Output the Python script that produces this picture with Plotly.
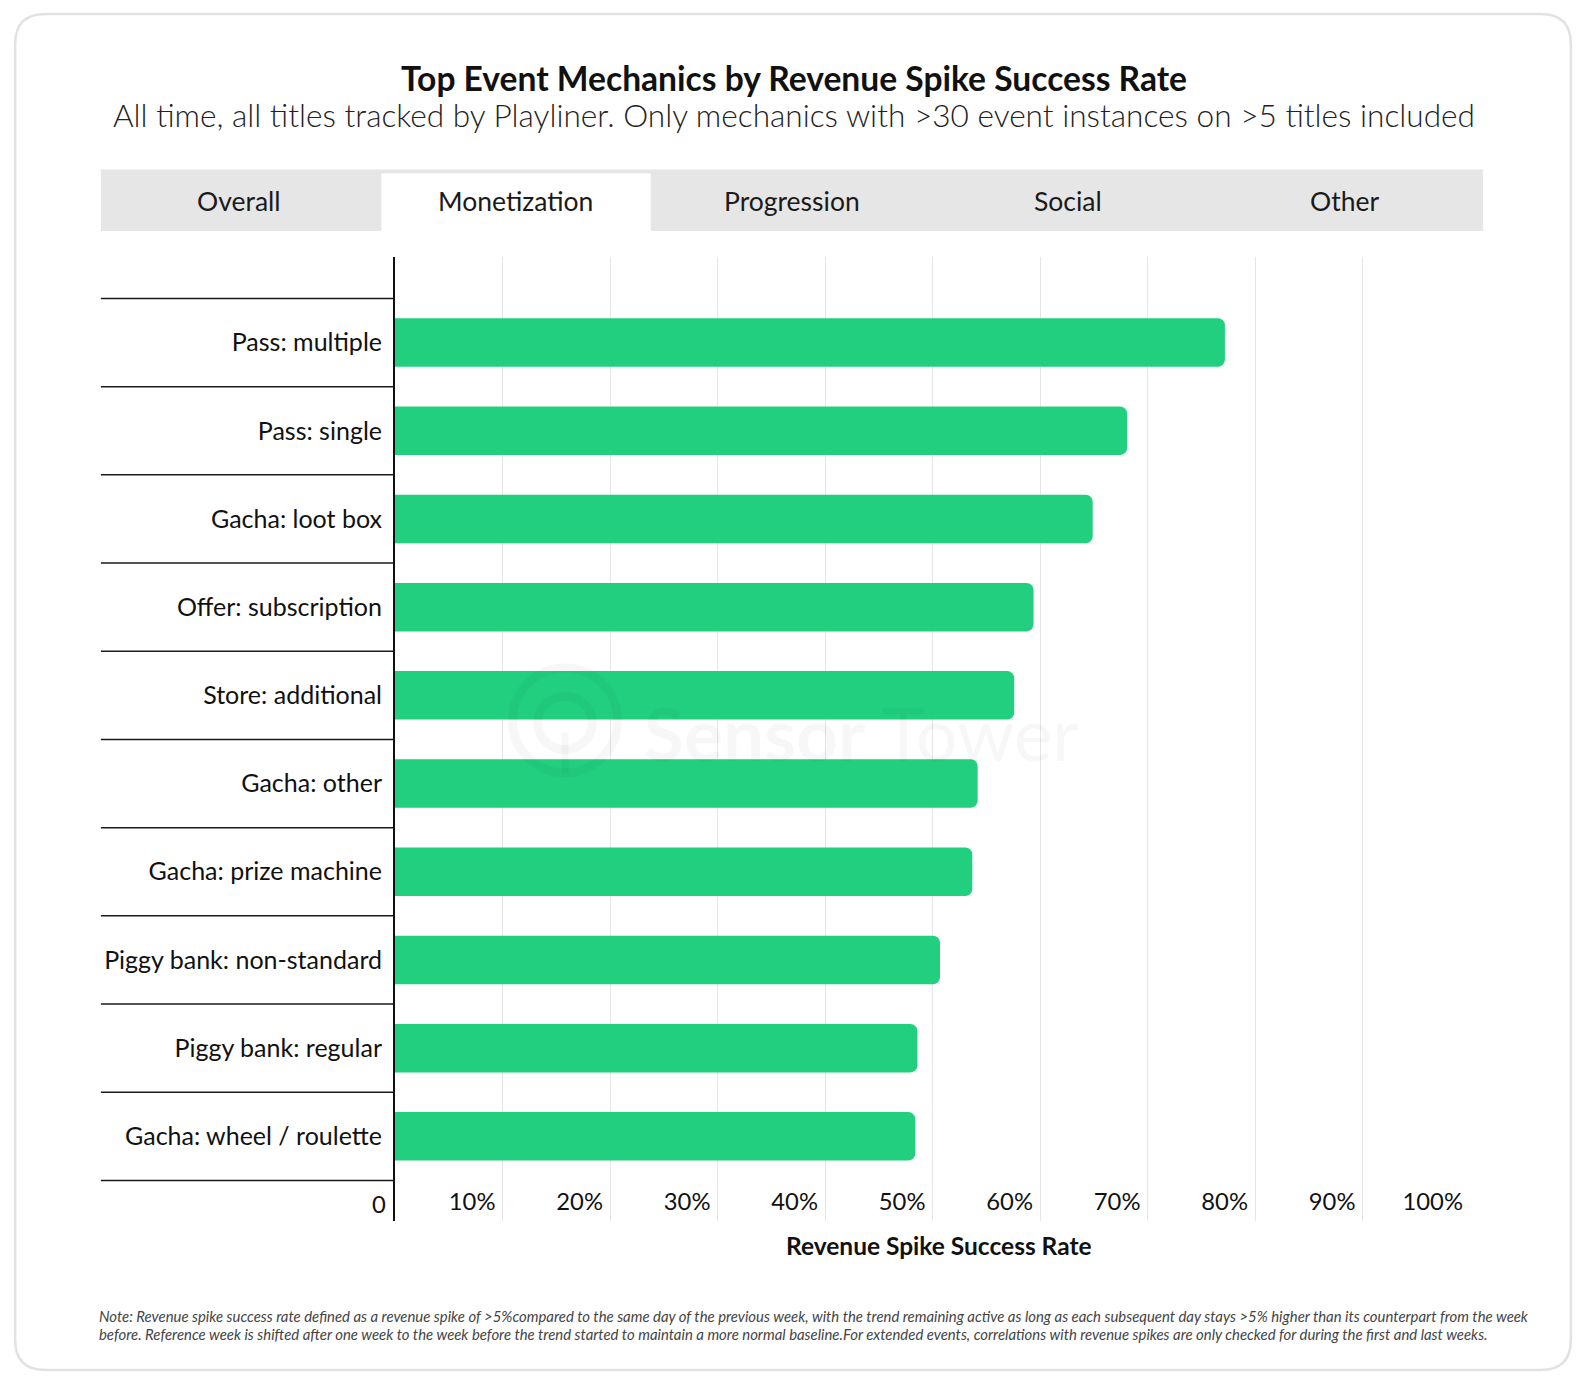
import plotly.graph_objects as go

# ---------------- data ----------------
categories = [
    "Pass: multiple",
    "Pass: single",
    "Gacha: loot box",
    "Offer: subscription",
    "Store: additional",
    "Gacha: other",
    "Gacha: prize machine",
    "Piggy bank: non-standard",
    "Piggy bank: regular",
    "Gacha: wheel / roulette",
]
success_rate = [77.2, 68.1, 64.9, 59.4, 57.6, 54.2, 53.7, 50.7, 48.6, 48.4]
tick_values = [10, 20, 30, 40, 50, 60, 70, 80, 90, 100]
tick_labels = ["10%", "20%", "30%", "40%", "50%", "60%", "70%", "80%", "90%", "100%"]
zero_label = "0"
tabs = ["Overall", "Monetization", "Progression", "Social", "Other"]
active_tab = "Monetization"

title = "Top Event Mechanics by Revenue Spike Success Rate"
subtitle = "All time, all titles tracked by Playliner. Only mechanics with >30 event instances on >5 titles included"
x_title = "Revenue Spike Success Rate"
note_lines = [
    "Note: Revenue spike success rate defined as a revenue spike of >5%compared to the same day of the previous week, with the trend remaining active as long as each subsequent day stays >5% higher than its counterpart from the week",
    "before. Reference week is shifted after one week to the week before the trend started to maintain a more normal baseline.For extended events, correlations with revenue spikes are only checked for during the first and last weeks.",
]

# ---------------- layout geometry ----------------
FIG_W, FIG_H = 1582, 1386
S = 1582 / 1568  # measured coordinates -> page pixels
L, R, T, B = 395, 112, 257, 165
PW = FIG_W - L - R
PH = FIG_H - T - B
Y_RANGE = [9.96, -0.97]

FONT = "Lato"
BAR_COLOR = "#22CF7F"


def px(x):
    return (x * S - L) / PW


def py(y):
    return 1 - (y * S - T) / PH


def ydata_to_paper(v):
    return (Y_RANGE[0] - v) / (Y_RANGE[0] - Y_RANGE[1])


def rounded_rect_path(x0, y0, x1, y1, r):
    pts = [
        ("M", [(x0 + r, y0)]),
        ("L", [(x1 - r, y0)]),
        ("Q", [(x1, y0), (x1, y0 + r)]),
        ("L", [(x1, y1 - r)]),
        ("Q", [(x1, y1), (x1 - r, y1)]),
        ("L", [(x0 + r, y1)]),
        ("Q", [(x0, y1), (x0, y1 - r)]),
        ("L", [(x0, y0 + r)]),
        ("Q", [(x0, y0), (x0 + r, y0)]),
    ]
    s = ""
    for cmd, ps in pts:
        s += cmd + " " + " ".join(f"{px(a):.5f},{py(b):.5f}" for a, b in ps) + " "
    return s + "Z"


fig = go.Figure()
fig.add_trace(
    go.Bar(
        x=success_rate,
        y=categories,
        orientation="h",
        width=0.55,
        marker=dict(color=BAR_COLOR, cornerradius=7, line=dict(width=0)),
        hovertemplate="%{y}: %{x:.1f}%<extra></extra>",
    )
)

shapes = []
# card border
shapes.append(dict(type="path", xref="paper", yref="paper",
                   path=rounded_rect_path(15, 14, 1557, 1358, 30),
                   line=dict(color="#e2e2e2", width=2.5), fillcolor="rgba(0,0,0,0)",
                   layer="below"))
# tab bar
shapes.append(dict(type="rect", xref="paper", yref="paper",
                   x0=px(100), x1=px(1470), y0=py(229), y1=py(168),
                   fillcolor="#e6e6e6", line=dict(width=0), layer="below"))
tab_w = (1470 - 100) / len(tabs)
for i, t in enumerate(tabs):
    if t == active_tab:
        shapes.append(dict(type="rect", xref="paper", yref="paper",
                           x0=px(100 + i * tab_w + 4), x1=px(100 + (i + 1) * tab_w - 3),
                           y0=py(229), y1=py(172),
                           fillcolor="#ffffff", line=dict(width=0), layer="below"))
# row separators in label column
for i in range(len(categories) + 1):
    yp = ydata_to_paper(i - 0.5)
    shapes.append(dict(type="line", xref="paper", yref="paper",
                       x0=px(100), x1=px(390), y0=yp, y1=yp,
                       line=dict(color="#1a1a1a", width=1.5)))
# watermark logo
wm = "rgba(0,0,0,0.03)"
shapes.append(dict(type="circle", xref="paper", yref="paper",
                   x0=px(508), x1=px(612), y0=py(766), y1=py(662),
                   line=dict(color=wm, width=9), layer="above"))
shapes.append(dict(type="circle", xref="paper", yref="paper",
                   x0=px(533), x1=px(587), y0=py(743), y1=py(690),
                   line=dict(color=wm, width=9), layer="above"))
shapes.append(dict(type="line", xref="paper", yref="paper",
                   x0=px(560), x1=px(560), y0=py(726), y1=py(767),
                   line=dict(color=wm, width=7), layer="above"))

annotations = []
annotations.append(dict(text=f"<b>{title}</b>", x=px(787), y=py(77), xref="paper", yref="paper",
                        showarrow=False, xanchor="center", yanchor="middle",
                        font=dict(family=FONT, size=33.6, color="#111111")))
annotations.append(dict(text=subtitle, x=px(787), y=py(114), xref="paper", yref="paper",
                        showarrow=False, xanchor="center", yanchor="middle",
                        font=dict(family=FONT, size=31.6, color="#222222", weight=300)))
for i, t in enumerate(tabs):
    annotations.append(dict(text=t, x=px(100 + (i + 0.5) * tab_w), y=py(199),
                            xref="paper", yref="paper", showarrow=False,
                            xanchor="center", yanchor="middle",
                            font=dict(family=FONT, size=26.5, color="#1a1a1a")))
annotations.append(dict(text=f"<b>{x_title}</b>", x=px(931), y=py(1234), xref="paper", yref="paper",
                        showarrow=False, xanchor="center", yanchor="middle",
                        font=dict(family=FONT, size=24.5, color="#111111")))
annotations.append(dict(text=zero_label, x=0, y=py(1193), xref="x", yref="paper",
                        showarrow=False, xanchor="right", yanchor="middle", xshift=-7,
                        font=dict(family=FONT, size=23.8, color="#111111")))
for j, line in enumerate(note_lines):
    annotations.append(dict(text=f"<i>{line}</i>", x=px(96), y=py(1304 + 18 * j),
                            xref="paper", yref="paper", showarrow=False,
                            xanchor="left", yanchor="middle",
                            font=dict(family=FONT, size=14.9, color="#444444")))
annotations.append(dict(text="<b>Sensor</b> Tower", x=px(636), y=py(727), xref="paper", yref="paper",
                        showarrow=False, xanchor="left", yanchor="middle",
                        font=dict(family=FONT, size=73, color=wm)))

fig.update_layout(
    width=FIG_W,
    height=FIG_H,
    margin=dict(l=L, r=R, t=T, b=B, pad=0),
    paper_bgcolor="#ffffff",
    plot_bgcolor="#ffffff",
    font=dict(family=FONT, color="#111111"),
    showlegend=False,
    bargap=0.45,
    shapes=shapes,
    annotations=annotations,
    xaxis=dict(
        range=[0, 100],
        tickvals=tick_values,
        ticktext=tick_labels,
        showgrid=True,
        gridcolor="#e6e6e6",
        gridwidth=1.2,
        zeroline=False,
        showline=False,
        ticks="",
        ticklabelposition="inside left",
        ticklabelshift=-7,
        tickfont=dict(family=FONT, size=23.8, color="#111111"),
        fixedrange=True,
    ),
    yaxis=dict(
        type="category",
        categoryorder="array",
        categoryarray=categories,
        range=Y_RANGE,
        showgrid=False,
        zeroline=False,
        showline=True,
        linecolor="#111111",
        linewidth=2,
        ticks="",
        ticklabelstandoff=6,
        tickfont=dict(family=FONT, size=25, color="#111111"),
        fixedrange=True,
    ),
)

fig.write_html(
    "out.html",
    config={"displayModeBar": False},
    post_script="document.body.style.margin='0';document.body.style.overflow='hidden';",
)
